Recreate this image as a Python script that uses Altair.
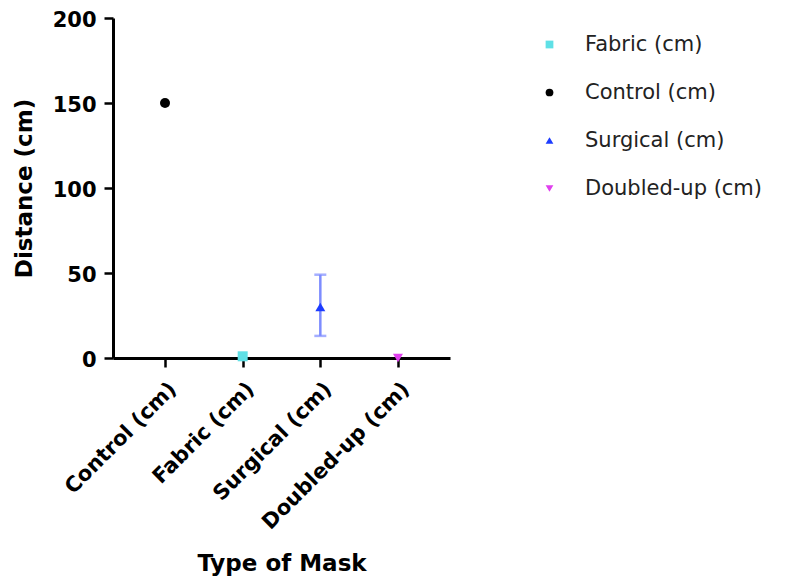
import altair as alt
import pandas as pd

categories = ["Control (cm)", "Fabric (cm)", "Surgical (cm)", "Doubled-up (cm)"]
means = [150, 1, 30, 0]
err_low = [None, None, 13, None]
err_high = [None, None, 49, None]

legend_order = ["Fabric (cm)", "Control (cm)", "Surgical (cm)", "Doubled-up (cm)"]
colors = ["#5fe0e6", "#000000", "#1d3cff", "#e040ee"]
shapes = ["square", "circle", "triangle-up", "triangle-down"]

df = pd.DataFrame({"Mask": categories, "Distance": means})
err = pd.DataFrame({"Mask": categories, "lo": err_low, "hi": err_high}).dropna()

FONT = "DejaVu Sans"

x = alt.X("Mask:N", sort=categories,
          scale=alt.Scale(type="point", padding=0.67),
          axis=alt.Axis(title="Type of Mask", labelAngle=-45, labelFontSize=21,
                        labelFontWeight="bold", labelFont=FONT, titleFont=FONT,
                        titleFontSize=23, titleFontWeight="bold", titlePadding=20,
                        domainColor="black", domainWidth=3, tickColor="black",
                        tickWidth=2.5, tickSize=9, labelColor="black", titleColor="black",
                        labelPadding=11, labelLimit=400, grid=False))

yscale = alt.Scale(domain=[0, 200], nice=False)
yaxis = alt.Axis(title="Distance (cm)", values=[0, 50, 100, 150, 200],
                 labelFontSize=21, labelFontWeight="bold", labelFont=FONT,
                 titleFont=FONT, titleFontSize=23, titleFontWeight="bold",
                 titlePadding=16, domainColor="black", domainWidth=3,
                 tickColor="black", tickWidth=2.5, tickSize=9, labelOffset=2,
                 labelColor="black", titleColor="black", grid=False, labelPadding=8)

rule = alt.Chart(err).mark_rule(color="#7d8cff", strokeWidth=2.5).encode(
    x=x, y=alt.Y("lo:Q", scale=yscale, axis=yaxis), y2="hi:Q")
cap_lo = alt.Chart(err).mark_tick(color="#7d8cff", thickness=2.5, size=12).encode(
    x=x, y=alt.Y("lo:Q", scale=yscale))
cap_hi = alt.Chart(err).mark_tick(color="#7d8cff", thickness=2.5, size=12).encode(
    x=x, y=alt.Y("hi:Q", scale=yscale))

legend = alt.Legend(title=None, orient="none", legendX=426, legendY=16,
                    labelFontSize=21, labelFont=FONT, labelColor="#222222",
                    symbolSize=60, rowPadding=26, labelOffset=25, symbolStrokeWidth=0,
                    labelLimit=400)

points = alt.Chart(df).mark_point(filled=True, size=100, opacity=1).encode(
    x=x,
    y=alt.Y("Distance:Q", scale=yscale, axis=yaxis),
    color=alt.Color("Mask:N", scale=alt.Scale(domain=legend_order, range=colors), legend=legend),
    shape=alt.Shape("Mask:N", scale=alt.Scale(domain=legend_order, range=shapes), legend=legend),
)

chart = alt.layer(rule, cap_lo, cap_hi, points).properties(
    width=337, height=340,
    autosize=alt.AutoSizeParams(type="none"),
    padding={"left": 105, "top": 10, "right": 330, "bottom": 220},
).configure_view(stroke=None)

chart.save("out.html", embed_options={"renderer": "svg", "actions": False})
